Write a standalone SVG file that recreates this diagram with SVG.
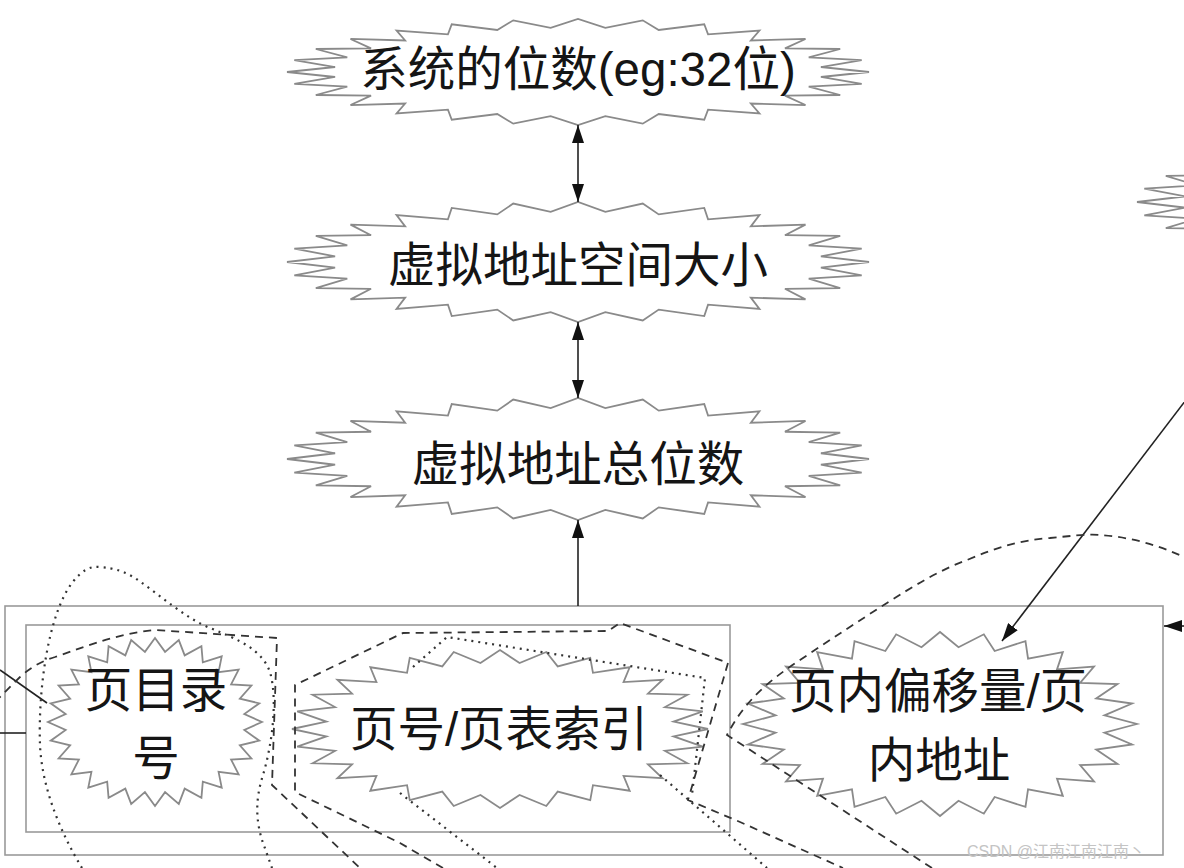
<svg xmlns="http://www.w3.org/2000/svg" xmlns:xlink="http://www.w3.org/1999/xlink" width="1184" height="868" viewBox="0 0 1184 868">
<style>
.burst{fill:#fff;stroke:#8a8a8a;stroke-width:1.8}
.box{fill:none;stroke:#9a9a9a;stroke-width:1.6}
.lbl{font-family:"Liberation Sans","Noto Sans CJK SC",sans-serif;font-size:47.5px;fill:#151515;text-anchor:middle}
.conn{fill:none;stroke:#222;stroke-width:1.6}
.dash{fill:none;stroke:#333;stroke-width:1.8;stroke-dasharray:8 6}
.dot{fill:none;stroke:#333;stroke-width:2.2;stroke-dasharray:2 5}
.wm{font-family:"Liberation Sans","Noto Sans CJK SC",sans-serif;font-size:16px;fill:#c4c4c4}
</style>
<defs>
<polygon id="burst" vector-effect="non-scaling-stroke" points="100,0 83.47,9.40 97.49,22.25 79.29,27.74 90.10,43.39 71.12,44.69 78.18,62.35 59.40,59.40 62.35,78.18 44.69,71.12 43.39,90.10 27.74,79.29 22.25,97.49 9.40,83.47 0,100 -9.40,83.47 -22.25,97.49 -27.74,79.29 -43.39,90.10 -44.69,71.12 -62.35,78.18 -59.40,59.40 -78.18,62.35 -71.12,44.69 -90.10,43.39 -79.29,27.74 -97.49,22.25 -83.47,9.40 -100,0 -83.47,-9.40 -97.49,-22.25 -79.29,-27.74 -90.10,-43.39 -71.12,-44.69 -78.18,-62.35 -59.40,-59.40 -62.35,-78.18 -44.69,-71.12 -43.39,-90.10 -27.74,-79.29 -22.25,-97.49 -9.40,-83.47 0,-100 9.40,-83.47 22.25,-97.49 27.74,-79.29 43.39,-90.10 44.69,-71.12 62.35,-78.18 59.40,-59.40 78.18,-62.35 71.12,-44.69 90.10,-43.39 79.29,-27.74 97.49,-22.25 83.47,-9.40"/>
<marker id="ah" viewBox="0 0 18 12" refX="18" refY="6" markerWidth="18" markerHeight="12" markerUnits="userSpaceOnUse" orient="auto-start-reverse">
<path d="M0,0 L18,6 L0,12 z" fill="#111"/>
</marker>
</defs>
<rect width="1184" height="868" fill="#fff"/>

<g id="address-box">
<rect class="box" x="5" y="606" width="1158" height="249"/>
<rect class="box" x="26" y="625" width="704" height="207"/>
</g>

<g id="node-system-bits">
<use href="#burst" class="burst" transform="translate(578,72) scale(2.91,0.53)"/>
<text class="lbl" x="578" y="86">系统的位数(eg:32位)</text>
</g>
<g id="node-vspace-size">
<use href="#burst" class="burst" transform="translate(578,262) scale(2.91,0.60)"/>
<text class="lbl" x="578" y="282">虚拟地址空间大小</text>
</g>
<g id="node-vaddr-bits">
<use href="#burst" class="burst" transform="translate(578,459) scale(2.91,0.61)"/>
<text class="lbl" x="578" y="481">虚拟地址总位数</text>
</g>
<g id="node-page-dir">
<use href="#burst" class="burst" transform="translate(155,722) scale(1.07,0.84)"/>
<text class="lbl" x="156" y="707">页目录</text>
<text class="lbl" x="156" y="775">号</text>
</g>
<g id="node-page-index">
<use href="#burst" class="burst" transform="translate(500,729) scale(2.08,0.79)"/>
<text class="lbl" x="499" y="746">页号/页表索引</text>
</g>
<g id="node-page-offset">
<use href="#burst" class="burst" transform="translate(940,724) scale(1.97,0.92)"/>
<text class="lbl" x="938" y="708">页内偏移量/页</text>
<text class="lbl" x="939" y="777">内地址</text>
</g>
<g id="node-offscreen">
<use href="#burst" class="burst" transform="translate(1428,202) scale(2.91,0.60)"/>
</g>

<g id="connectors">
<line class="conn" x1="578" y1="125" x2="578" y2="202" marker-start="url(#ah)" marker-end="url(#ah)"/>
<line class="conn" x1="578" y1="322" x2="578" y2="398" marker-start="url(#ah)" marker-end="url(#ah)"/>
<line class="conn" x1="578" y1="606" x2="578" y2="520" marker-end="url(#ah)"/>
<line class="conn" x1="1192" y1="392" x2="1002" y2="641" marker-end="url(#ah)"/>
<line class="conn" x1="1192" y1="626" x2="1164" y2="626" marker-end="url(#ah)"/>
<line class="conn" x1="0" y1="670" x2="47" y2="703"/>
<line class="conn" x1="0" y1="733" x2="26" y2="733"/>
</g>

<g id="groupings">
<path class="dot" d="M82,868 C62,835 42,790 40,745 C38,690 48,615 72,583 C82,570 90,566 100,567 C115,568 125,572 135,578 C160,595 185,618 210,628 C240,640 262,650 270,672 C278,700 272,745 263,775 C255,800 256,820 262,840 L272,868"/>
<path class="dash" d="M-5,702 L20,677 Q35,663 55,657 C90,645 120,633 155,630 L277,638 L272,785 L360,868"/>
<path class="dash" d="M443,868 L400,843 L295,792 L295,685 L403,633 L608,631 L620,623 L728,663 L688,800 L740,822 L843,868"/>
<path class="dot" d="M413,667 L447,637 L705,678 L692,795"/>
<path class="dot" d="M660,775 L767,868"/>
<path class="dot" d="M400,793 L497,868"/>
<path class="dash" d="M932,868 L727,735 C745,700 770,680 800,660 C830,640 860,620 887,603 C915,585 940,570 967,560 C995,548 1020,540 1050,538 C1080,535 1090,534 1100,535 C1130,537 1160,545 1190,560"/>
</g>

<text class="wm" x="967" y="857">CSDN @江南江南江南丶</text>
</svg>
